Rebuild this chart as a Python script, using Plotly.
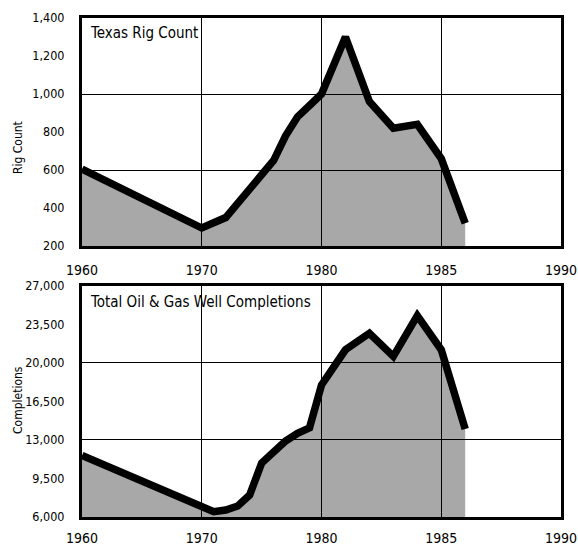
import plotly.graph_objects as go
from plotly.subplots import make_subplots

# ---- data ----
rig_years = [1960, 1965, 1970, 1972, 1974, 1976, 1977, 1978, 1979, 1980, 1981, 1982, 1983, 1984, 1985, 1986]
rig_counts = [605, 455, 295, 350, 500, 650, 780, 880, 940, 1000, 1300, 960, 820, 840, 660, 320]

comp_years = [1960, 1970, 1971, 1972, 1973, 1974, 1975, 1976, 1977, 1978, 1979, 1980, 1981, 1982, 1983, 1984, 1985, 1986]
completions = [11600, 6800, 6480, 6640, 7000, 8000, 10900, 11900, 12900, 13600, 14100, 18000, 21200, 22700, 20600, 24300, 21200, 14000]

x_tick_years = [1960, 1970, 1980, 1985, 1990]
rig_ticks = [200, 400, 600, 800, 1000, 1200, 1400]
rig_grid = [600, 1000]
comp_ticks = [6000, 9500, 13000, 16500, 20000, 23500, 27000]
comp_grid = [13000, 20000]


def xscale(year):
    # the original chart uses evenly spaced gridlines: 10-year steps up to 1980, then 5-year steps
    if year <= 1980:
        return (year - 1960) / 10.0
    return 2 + (year - 1980) / 5.0


FONT = "Liberation Sans Narrow, DejaVu Sans Condensed, sans-serif"

fig = make_subplots(rows=2, cols=1, vertical_spacing=0.08)

for row, yrs, vals in [(1, rig_years, rig_counts), (2, comp_years, completions)]:
    fig.add_trace(go.Scatter(
        x=[xscale(y) for y in yrs], y=vals, mode="lines",
        line=dict(color="black", width=7.5),
        fill="tozeroy", fillcolor="rgba(0,0,0,0.34)",
        showlegend=False, hoverinfo="skip"), row=row, col=1)

xaxis_common = dict(
    range=[0, 4], tickvals=[xscale(y) for y in x_tick_years],
    ticktext=[str(y) for y in x_tick_years],
    showgrid=True, gridcolor="black", gridwidth=1.3,
    showline=True, linecolor="black", linewidth=3, mirror=True,
    zeroline=False, ticks="", ticklabelstandoff=9, ticklabeloverflow="allow",
    automargin=False,
    tickfont=dict(family=FONT, size=14, color="black"),
)
fig.update_xaxes(**xaxis_common)
fig.update_xaxes(ticklabelstandoff=6, row=2, col=1)

yaxis_common = dict(
    showgrid=False, zeroline=False, ticks="",
    showline=True, linecolor="black", linewidth=3, mirror=True,
    tickformat=",", ticklabelstandoff=12, ticklabeloverflow="allow",
    automargin=False,
    tickfont=dict(family=FONT, size=12.5, color="black"),
)
fig.update_yaxes(**yaxis_common)

fig.update_yaxes(range=[200, 1400], tickvals=rig_ticks, domain=[0.543, 1.0],
                 minor=dict(tickvals=rig_grid, showgrid=True, gridcolor="black", gridwidth=1.3, ticks=""),
                 row=1, col=1)
fig.update_yaxes(range=[6000, 27000], tickvals=comp_ticks, domain=[0.0, 0.463],
                 minor=dict(tickvals=comp_grid, showgrid=True, gridcolor="black", gridwidth=1.3, ticks=""),
                 row=2, col=1)

annotations = [
    dict(text="Texas Rig Count", x=0.0125, y=0.970, xanchor="left", yanchor="middle"),
    dict(text="Total Oil & Gas Well Completions", x=0.0125, y=0.4315, xanchor="left", yanchor="middle"),
]
for a in annotations:
    fig.add_annotation(xref="paper", yref="paper", showarrow=False,
                       font=dict(family=FONT, size=15, color="black"), **a)

for text, y in [("Rig Count", 0.7395), ("Completions", 0.2345)]:
    fig.add_annotation(text=text, xref="paper", yref="paper", x=-0.1336, y=y,
                       xanchor="center", yanchor="middle", textangle=-90, showarrow=False,
                       font=dict(family=FONT, size=12, color="black"))

fig.update_layout(
    width=578, height=547,
    margin=dict(l=82, r=17, t=18, b=30, autoexpand=False),
    paper_bgcolor="white", plot_bgcolor="white",
)

# remove the default 8px page margin so the figure fills the window exactly
fig.write_html("out.html", config={"displayModeBar": False},
               post_script="document.body.style.margin='0';document.body.style.overflow='hidden';")
